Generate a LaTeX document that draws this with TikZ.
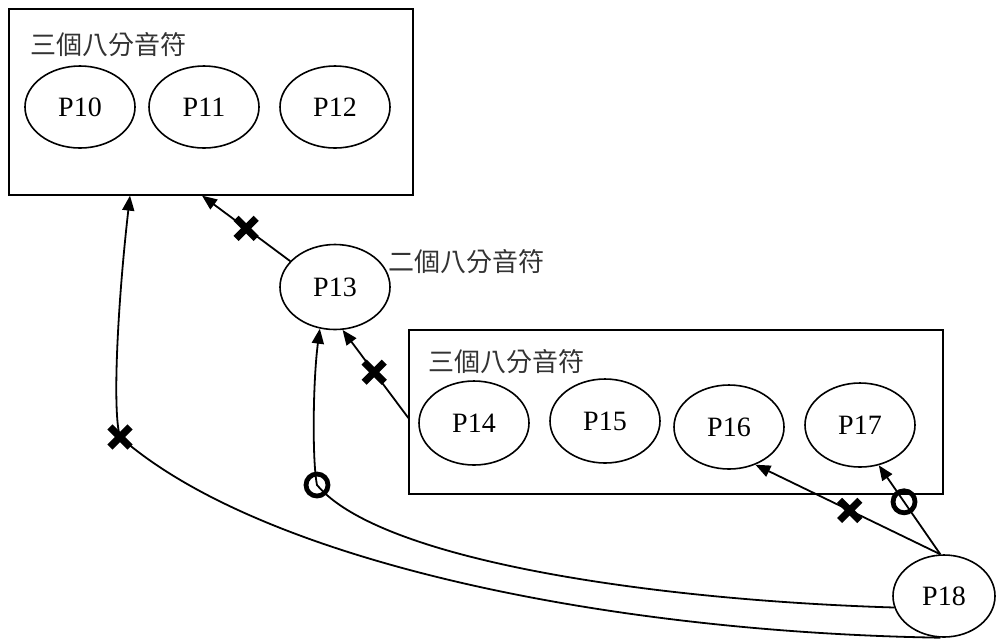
\documentclass[tikz,border=0pt]{standalone}
\usepackage{fontspec}
\usepackage{tikz}
\usetikzlibrary{arrows.meta,shapes.geometric,shapes.misc}
\setmainfont{Liberation Serif}
\newfontfamily\cjkfont{Noto Sans CJK TC}
\definecolor{labelgray}{HTML}{333333}

\begin{document}
\begin{tikzpicture}[x=0.5pt,y=-0.5pt,
  group/.style={draw,line width=0.6pt,rectangle,inner sep=0pt},
  note/.style={ellipse,draw,line width=0.8pt,minimum width=55pt,minimum height=41pt,inner sep=0pt,font=\fontsize{14}{16}\selectfont},
  grouplabel/.style={anchor=west,text=labelgray,inner sep=0pt,font=\cjkfont\fontsize{13}{15}\selectfont},
  link/.style={line width=0.9pt,-{Triangle[length=7.5pt,width=6pt]}},
  nomark/.style={cross out,draw,line width=3.6pt,minimum size=6.5pt,inner sep=0pt},
  okmark/.style={circle,draw,line width=2.4pt,minimum size=11pt,inner sep=0pt}]
  \useasboundingbox (0,0) rectangle (996,639);
  \node[group,minimum width=202pt,minimum height=93pt] (grpA) at (211,102) {};
  \node[grouplabel] (lblA) at (30,45) {三個八分音符};
  \node[note] (p10) at (80,107) {P10};
  \node[note] (p11) at (204,107) {P11};
  \node[note] (p12) at (335,107) {P12};
  \node[note,minimum height=42.5pt] (p13) at (335,287) {P13};
  \node[grouplabel] (lblC) at (388,262) {二個八分音符};
  \node[group,minimum width=267pt,minimum height=82pt] (grpB) at (676,412) {};
  \node[grouplabel] (lblB) at (428,362) {三個八分音符};
  \node[note,minimum height=42pt] (p14) at (474,423) {P14};
  \node[note,minimum height=42pt] (p15) at (605,421) {P15};
  \node[note,minimum height=42pt] (p16) at (729,427) {P16};
  \node[note,minimum height=42pt] (p17) at (860,425) {P17};
  \node[note,minimum width=51pt] (p18) at (944,596) {P18};
  \coordinate (bendA) at (120,437);
  \coordinate (bendB) at (317,485);
  \draw[link] (p13.150) -- node[nomark,pos=0.5] (m1) {} ([xshift=-4.5pt]grpA.south);
  \draw[link] ([yshift=-3pt]grpB.west) -- node[nomark,pos=0.52] (m2) {} (p13.-80);
  \draw[link] (p18.95) -- node[nomark,pos=0.49] (m3) {} (p16.-55);
  \draw[link] (p18.95) -- node[okmark,pos=0.59] (m4) {} (p17.-65);
  \draw[link] (p18.265) .. controls (600,632) and (260,560) .. (bendA)
    .. controls (112,410) and (118,300) .. ([xshift=-40.5pt]grpA.south);
  \draw[link] (p18.193) .. controls (650,600) and (380,560) .. (bendB)
    .. controls (312,460) and (313,380) .. (p13.-110);
  \node[nomark] (m5) at (bendA) {};
  \node[okmark] (m6) at (bendB) {};
\end{tikzpicture}
\end{document}
